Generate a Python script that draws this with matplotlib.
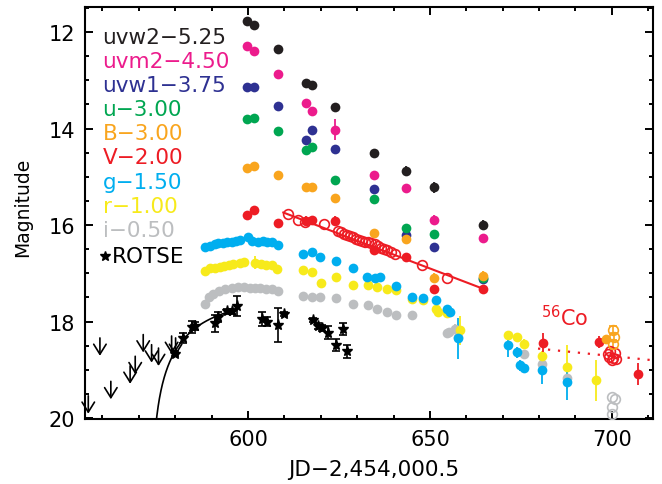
import numpy as np
import matplotlib
matplotlib.use("Agg")
import matplotlib.pyplot as plt

# ---------------- data ----------------
t_swift = [599.6, 601.6, 608.2, 615.8, 617.7, 623.9, 634.6, 643.4, 651.2, 664.6]
uvw2 = [11.78, 11.86, 12.36, 13.05, 13.09, 13.56, 14.50, 14.88, 15.22, 15.99]
uvw2_err = [0.03, 0.03, 0.03, 0.05, 0.05, 0.10, 0.08, 0.10, 0.12, 0.10]
uvm2 = [12.29, 12.40, 12.86, 13.48, 13.64, 14.02, 14.97, 15.23, 15.89, 16.26]
uvm2_err = [0.03, 0.03, 0.04, 0.08, 0.06, 0.22, 0.07, 0.08, 0.10, 0.08]
uvw1 = [13.14, 13.14, 13.54, 14.23, 14.02, 14.43, 15.26, 16.20, 16.46, 17.12]
uvw1_err = [0.03, 0.03, 0.04, 0.06, 0.05, 0.08, 0.07, 0.08, 0.08, 0.08]
u_mag = [13.81, 13.79, 14.04, 14.44, 14.39, 15.07, 15.47, 16.07, 16.18, 17.10]
u_err = [0.03, 0.03, 0.03, 0.05, 0.05, 0.08, 0.07, 0.08, 0.08, 0.08]
B_mag = [14.81, 14.77, 14.97, 15.22, 15.22, 15.44, 16.17, 16.28, 17.09, 17.06]
B_err = [0.03, 0.03, 0.03, 0.04, 0.04, 0.08, 0.07, 0.08, 0.10, 0.10]
V_mag = [15.80, 15.69, 15.95, 15.92, 15.90, 15.92, 16.52, 16.66, 17.33, 17.32]
V_err = [0.03, 0.03, 0.03, 0.10, 0.05, 0.10, 0.07, 0.06, 0.06, 0.06]

t_V_late = [681.1, 696.5, 707.2]
V_late = [18.44, 18.42, 19.08]
V_late_err = [0.20, 0.12, 0.23]
t_B_late = [698.5]
B_late = [18.37]
B_late_err = [0.10]

t_V_open = [611.1, 613.8, 615.6, 620.9, 624.8, 625.5, 626.3, 627.1, 628.0, 628.8, 629.6,
            630.5, 631.3, 632.2, 633.0, 633.9, 634.9, 635.8, 636.6, 637.4, 638.3, 639.3,
            640.3, 647.8, 654.8]
V_open = [15.78, 15.89, 15.93, 15.98, 16.12, 16.15, 16.18, 16.20, 16.22, 16.25, 16.28,
          16.30, 16.33, 16.35, 16.36, 16.38, 16.40, 16.44, 16.47, 16.49, 16.52, 16.55,
          16.59, 16.83, 17.10]

t_B_open = [700.4, 700.5, 700.4]
B_open = [18.18, 18.32, 18.46]
t_V_open_late = [698.9, 699.6, 700.3, 700.9, 701.0, 700.0, 699.3]
V_open_late = [18.68, 18.62, 18.76, 18.66, 18.78, 18.80, 18.74]
t_i_open = [699.9, 700.8, 700.0, 700.0]
i_open = [19.56, 19.60, 19.77, 19.91]

t_g = [588.2, 589.5, 590.8, 591.8, 593.0, 594.2, 595.5, 596.6, 597.8, 599.9, 601.0,
       602.8, 604.0, 605.2, 606.5, 608.3, 615.2, 617.5, 619.8, 624.2, 628.9, 632.8,
       634.9, 636.3, 640.8, 645.0, 648.2, 651.8, 654.6, 655.5, 657.8, 671.5, 673.8,
       674.7, 675.8, 680.7, 687.7]
g_mag = [16.45, 16.44, 16.40, 16.38, 16.37, 16.36, 16.35, 16.33, 16.32, 16.25, 16.33,
         16.35, 16.34, 16.36, 16.35, 16.42, 16.59, 16.56, 16.66, 16.75, 16.90, 17.07,
         17.09, 17.07, 17.26, 17.49, 17.52, 17.55, 17.73, 17.80, 18.35, 18.49, 18.64,
         18.91, 18.97, 19.01, 19.25]
g_err = [0.03, 0.03, 0.03, 0.03, 0.03, 0.03, 0.03, 0.03, 0.03, 0.08, 0.03,
         0.03, 0.03, 0.03, 0.03, 0.04, 0.04, 0.04, 0.04, 0.04, 0.05, 0.05,
         0.05, 0.05, 0.06, 0.06, 0.06, 0.06, 0.07, 0.07, 0.42, 0.24, 0.12,
         0.12, 0.10, 0.28, 0.38]

t_r = [588.2, 589.5, 590.8, 592.3, 593.5, 594.8, 596.0, 597.8, 599.0, 601.9, 603.5,
       605.0, 606.5, 608.1, 615.2, 617.5, 620.0, 624.2, 628.9, 633.1, 635.4, 638.1,
       640.8, 645.0, 648.2, 651.8, 652.3, 654.6, 658.2, 671.5, 673.8, 675.8, 680.7,
       687.7, 695.6]
r_mag = [16.95, 16.90, 16.88, 16.86, 16.84, 16.82, 16.80, 16.78, 16.77, 16.78, 16.80,
         16.82, 16.83, 16.92, 16.94, 16.97, 17.21, 17.07, 17.24, 17.25, 17.28, 17.32,
         17.35, 17.53, 17.56, 17.74, 17.80, 17.82, 18.18, 18.28, 18.32, 18.46, 18.71,
         18.94, 19.22]
r_err = [0.03, 0.03, 0.03, 0.03, 0.03, 0.03, 0.03, 0.03, 0.03, 0.13, 0.03,
         0.03, 0.03, 0.09, 0.03, 0.03, 0.09, 0.04, 0.04, 0.04, 0.04, 0.04,
         0.04, 0.05, 0.05, 0.05, 0.06, 0.06, 0.30, 0.08, 0.07, 0.09, 0.10,
         0.45, 0.42]

t_i = [588.2, 589.3, 590.5, 592.0, 593.7, 595.5, 597.2, 598.8, 600.5, 602.0, 603.4,
       605.0, 606.7, 608.2, 615.2, 617.5, 619.8, 624.2, 628.9, 633.1, 635.4, 638.1,
       640.8, 645.0, 654.6, 655.1, 656.9, 657.8, 675.8, 680.7, 687.7]
i_mag = [17.63, 17.50, 17.42, 17.36, 17.32, 17.30, 17.28, 17.28, 17.30, 17.31, 17.31,
         17.32, 17.33, 17.36, 17.47, 17.49, 17.49, 17.52, 17.63, 17.65, 17.73, 17.80,
         17.86, 17.86, 18.23, 18.21, 18.15, 18.32, 18.68, 18.87, 19.17]
i_err = [0.03] * 24 + [0.05, 0.08, 0.10, 0.12, 0.10, 0.10, 0.10]

t_rotse = [579.9, 582.2, 584.5, 585.4, 590.9, 591.8, 594.1, 595.5, 596.9, 603.8,
           605.1, 608.3, 610.0, 617.8, 619.3, 620.2, 622.1, 624.2, 626.0, 627.1]
rotse = [18.67, 18.34, 18.11, 18.09, 18.04, 17.90, 17.79, 17.79, 17.68, 17.95,
         18.00, 18.07, 17.85, 17.96, 18.09, 18.13, 18.23, 18.49, 18.16, 18.62]
rotse_err = [0.05, 0.10, 0.13, 0.08, 0.18, 0.10, 0.06, 0.06, 0.20, 0.15,
             0.10, 0.35, 0.04, 0.04, 0.06, 0.06, 0.13, 0.13, 0.12, 0.14]

t_lim = [556.1, 559.3, 562.3, 567.6, 569.0, 571.2, 573.5, 575.4, 579.0, 580.1]
lim = [19.54, 18.34, 19.24, 18.92, 18.72, 18.27, 18.48, 18.55, 18.30, 18.34]

# fit parameters
rise_m_peak, rise_t0, rise_tau, rise_tend = 17.50, 573.3, 15.0, 597.0
lin_t = [609.7, 664.6]; lin_m0, lin_slope = 15.74, 0.02878
co_t = [679.7, 713.6]; co_m0, co_slope = 18.56, 0.00767

legend_labels = ["uvw2\u22125.25", "uvm2\u22124.50", "uvw1\u22123.75", "u\u22123.00",
                 "B\u22123.00", "V\u22122.00", "g\u22121.50", "r\u22121.00", "i\u22120.50"]

# ---------------- style ----------------
c_black = '#231f20'; c_pink = '#ec1b8c'; c_navy = '#2e3192'; c_green = '#00a651'
c_orange = '#f9a51e'; c_red = '#ed1c24'; c_cyan = '#00aeef'; c_yellow = '#f7ea1b'
c_grey = '#bcbec0'
legend_colors = [c_black, c_pink, c_navy, c_green, c_orange, c_red, c_cyan, c_yellow, c_grey]

fig = plt.figure(figsize=(6.62, 4.85), dpi=100)
ax = fig.add_axes([85/662, 1-420/485, (653-85)/662, (420-8)/485])

ms = 7.0
ekw = dict(fmt='o', ms=ms, mew=0, elinewidth=1.3, capsize=3.2, capthick=1.3)

# fits
tt = np.linspace(rise_t0 + 0.05, rise_tend, 400)
mm = rise_m_peak - 2.5*np.log10(1 - np.exp(-(tt - rise_t0)/rise_tau))
ax.plot(tt, mm, color='k', lw=1.2, zorder=2)

ax.errorbar(t_i, i_mag, yerr=i_err, color=c_grey, ecolor=c_grey, zorder=3, **ekw)
ax.errorbar(t_r, r_mag, yerr=r_err, color=c_yellow, ecolor=c_yellow, zorder=3, **ekw)
ax.errorbar(t_g, g_mag, yerr=g_err, color=c_cyan, ecolor=c_cyan, zorder=3, **ekw)

for mags, errs, col in [(uvw2, uvw2_err, c_black), (uvm2, uvm2_err, c_pink),
                        (uvw1, uvw1_err, c_navy), (u_mag, u_err, c_green),
                        (B_mag, B_err, c_orange), (V_mag, V_err, c_red)]:
    ax.errorbar(t_swift, mags, yerr=errs, color=col, ecolor=col, zorder=4, **ekw)

ax.errorbar(t_V_late, V_late, yerr=V_late_err, color=c_red, ecolor=c_red, zorder=4, **ekw)
ax.errorbar(t_B_late, B_late, yerr=B_late_err, color=c_orange, ecolor=c_orange, zorder=4, **ekw)

okw = dict(marker='o', ls='none', ms=ms, mfc='none', mew=1.2)
lt = np.array(lin_t)
ax.plot(lt, lin_m0 + lin_slope*(lt - lt[0]), color=c_red, lw=1.5, zorder=5)
ax.plot(t_V_open, V_open, mec=c_red, zorder=5, **okw)
ax.errorbar(t_B_open, B_open, yerr=[0.08]*3, fmt='o', ms=ms, mfc='none', mec=c_orange,
            mew=1.2, ecolor=c_orange, elinewidth=1.2, capsize=3, zorder=5)
ax.plot(t_V_open_late, V_open_late, mec=c_red, zorder=5, **okw)
ax.plot(t_i_open, i_open, mec=c_grey, zorder=5, **okw)
ct = np.array(co_t)
ax.plot(ct, co_m0 + co_slope*(ct - ct[0]), color=c_red, lw=1.6, ls=(0, (1, 3.5)), zorder=5)

# ROTSE
ax.errorbar(t_rotse, rotse, yerr=rotse_err, fmt='*', ms=8, color='k', ecolor='k',
            elinewidth=1.2, capsize=3, capthick=1.2, zorder=6)
for x, m in zip(t_lim, lim):
    ax.annotate('', xy=(x, m + 0.37), xytext=(x, m),
                arrowprops=dict(arrowstyle='->,head_length=0.45,head_width=0.28',
                                lw=1.2, color='k', shrinkA=0, shrinkB=0,
                                mutation_scale=16), zorder=6)

ax.text(680.4, 18.08, r'$^{56}$Co', color=c_red, fontsize=15, va='baseline', ha='left')

# legend
y0, dy = 0.928, 0.0586
for k, (lab, col) in enumerate(zip(legend_labels, legend_colors)):
    ax.text(0.031, y0 - k*dy, lab, color=col, fontsize=15.5, transform=ax.transAxes,
            va='center', ha='left')
yR = y0 - 9*dy - 0.005
ax.plot([0.035], [yR], marker='*', ms=7.5, color='k', transform=ax.transAxes, clip_on=False)
ax.text(0.048, yR, 'ROTSE', color='k', fontsize=15.5, transform=ax.transAxes,
        va='center', ha='left')

# axes
ax.set_xlim(555.2, 711.3)
ax.set_ylim(20.02, 11.48)
ax.set_xticks([600, 650, 700])
ax.set_xticks(np.arange(560, 711, 10), minor=True)
ax.set_yticks([12, 14, 16, 18, 20])
ax.set_yticks(np.arange(11.5, 20.01, 0.5), minor=True)
ax.tick_params(which='both', direction='in', top=True, right=True, width=1.4,
               labelsize=15, pad=7)
ax.tick_params(which='major', length=6)
ax.tick_params(which='minor', length=3)
for s in ax.spines.values():
    s.set_linewidth(1.5)
ax.set_xlabel('JD\u22122,454,000.5', fontsize=15.5)
ax.set_ylabel('Magnitude', fontsize=13.5)
ax.xaxis.set_label_coords(0.509, -0.098)
ax.yaxis.set_label_coords(-0.093, 0.515)

fig.savefig('out.png', dpi=100)
